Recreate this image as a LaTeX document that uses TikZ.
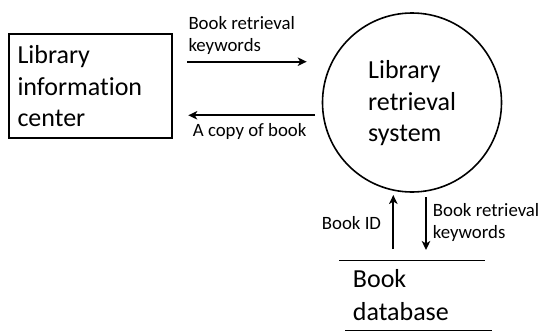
\documentclass[tikz,border=0pt]{standalone}
\usepackage{fontspec}
\setmainfont{Carlito}[Ligatures={CommonOff}]
\usetikzlibrary{arrows.meta}
\begin{document}
\begin{tikzpicture}[x=1pt,y=-1pt,
  big/.style={font=\fontsize{26}{31.7}\selectfont, align=left, inner sep=0pt},
  small/.style={font=\fontsize{18.8}{22}\selectfont, align=left, inner sep=0pt},
  flow/.style={line width=2pt, -{Stealth[length=9pt,width=8.5pt,inset=2.5pt]}},
  storeline/.style={line width=1.6pt}]
\useasboundingbox (0,0) rectangle (540,332);
% external entity
\node[draw, line width=1.8pt, minimum width=162.7, minimum height=103.7, inner sep=0pt] (lic) at (90.7,86.2) {};
\node[big, anchor=base west] (lict) at (17.3,126.7) {Library\\information\\center};
% process
\node[draw, circle, line width=1.6pt, minimum size=179, inner sep=0pt] (lrs) at (412,102.5) {};
\node[big, anchor=base west] (lrst) at (368,141.7) {Library\\retrieval\\system};
% data store
\node[big, font=\fontsize{26}{33}\selectfont, anchor=base west] (db) at (352.7,320) {Book\\database};
\coordinate (dbt1) at (339.3,260.3); \coordinate (dbt2) at (485,260.3);
\coordinate (dbb1) at (345,330.3); \coordinate (dbb2) at (491.7,330.3);
\draw[storeline] (dbt1) -- (dbt2);
\draw[storeline] (dbb1) -- (dbb2);
% flows
\coordinate (k1s) at (187.3,61.7); \coordinate (k1e) at (306.7,61.7);
\coordinate (c1s) at (315,115.3); \coordinate (c1e) at (188.3,115.3);
\coordinate (u1) at (393.3,249); \coordinate (u2) at (393.3,195);
\coordinate (d1) at (426,197); \coordinate (d2) at (426,250);
\draw[flow] (k1s) -- (k1e);
\draw[flow] (c1s) -- (c1e);
\draw[flow] (u1) -- (u2);
\draw[flow] (d1) -- (d2);
% labels
\node[small, anchor=base west] (l1) at (188.3,51.7) {Book retrieval\\keywords};
\node[small, anchor=base west] (l2) at (192.7,136.7) {A copy of book};
\node[small, anchor=base west] (l3) at (321.7,229.3) {Book ID};
\node[small, anchor=base west] (l4) at (432.7,238.3) {Book retrieval\\keywords};
\end{tikzpicture}
\end{document}
